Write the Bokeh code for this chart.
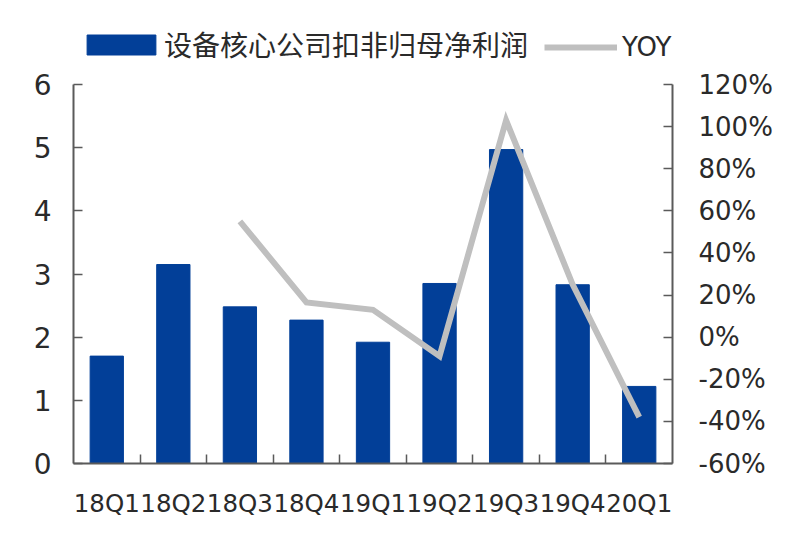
from bokeh.plotting import figure
from bokeh.models import Range1d, LinearAxis, FixedTicker, Legend, LegendItem, ColumnDataSource, PrintfTickFormatter
from bokeh.embed import file_html
from bokeh.resources import INLINE

quarters = ["18Q1", "18Q2", "18Q3", "18Q4", "19Q1", "19Q2", "19Q3", "19Q4", "20Q1"]
profit = [1.70, 3.15, 2.48, 2.27, 1.92, 2.85, 4.97, 2.83, 1.22]
yoy = [None, None, 55, 16.5, 13, -9, 103, 25, -38]
positions = list(range(len(quarters)))
boundaries = [i + 0.5 for i in positions[:-1]]
bar_label = "设备核心公司扣非归母净利润"
line_label = "YOY"

BLUE = "#023F98"
GREY = "#BFBFBF"
AXIS = "#5a5a5a"
TEXT = "#2a2a2a"

# The frame reaches above the top tick so the legend can sit over the axes.
PLOT_H = 379
HEADROOM = 64
extra = HEADROOM / PLOT_H

p = figure(frame_width=599, frame_height=PLOT_H + HEADROOM, output_backend="svg", toolbar_location=None,
           x_range=Range1d(-0.5, 8.5), y_range=Range1d(0, 6 * (1 + extra)),
           min_border_left=73, min_border_right=112, min_border_top=20, min_border_bottom=66)
p.extra_y_ranges = {"yoy": Range1d(-60, 120 + 180 * extra)}
p.background_fill_color = "white"
p.outline_line_color = None
p.grid.visible = False

bars = p.vbar(x=positions, top=profit, width=0.5, color=BLUE)
src = ColumnDataSource(dict(x=positions[2:], y=yoy[2:]))
line = p.line("x", "y", source=src, y_range_name="yoy", line_color=GREY, line_width=6, line_join="miter")

xa = p.xaxis[0]
xa.ticker = FixedTicker(ticks=positions, minor_ticks=boundaries)
xa.major_label_overrides = dict(zip(positions, quarters))
xa.major_tick_line_color = None
xa.minor_tick_in = 9
xa.minor_tick_out = 0
xa.minor_tick_line_color = AXIS
xa.minor_tick_line_width = 1.5
xa.axis_line_color = AXIS
xa.axis_line_width = 2
xa.major_label_text_font = "DejaVu Sans"
xa.major_label_text_font_size = "24.5px"
xa.major_label_text_color = TEXT
xa.major_label_standoff = 19

ya = p.yaxis[0]
ya.ticker = FixedTicker(ticks=[0, 1, 2, 3, 4, 5, 6])
ya.bounds = (0, 6)
yr = LinearAxis(y_range_name="yoy", ticker=FixedTicker(ticks=list(range(-60, 121, 20))),
                formatter=PrintfTickFormatter(format="%d%%"), bounds=(-60, 120))
p.add_layout(yr, "right")
for a in (ya, yr):
    a.major_tick_in = 9
    a.major_tick_out = 0
    a.minor_tick_line_color = None
    a.major_tick_line_color = AXIS
    a.major_tick_line_width = 1.5
    a.axis_line_color = AXIS
    a.axis_line_width = 2
    a.major_label_text_font = "DejaVu Sans"
    a.major_label_text_color = TEXT
ya.major_label_text_font_size = "28px"
yr.major_label_text_font_size = "26px"
ya.major_label_standoff = 22
yr.major_label_standoff = 26

common = dict(orientation="horizontal", border_line_color=None, background_fill_alpha=0,
              label_text_color=TEXT, margin=0, padding=0, label_height=22)
legend1 = Legend(items=[LegendItem(label=bar_label, renderers=[bars])], location=(5, 399),
                 glyph_width=86, glyph_height=25, label_standoff=0,
                 label_text_font="Noto Sans CJK SC", label_text_font_size="28px", **common)
legend2 = Legend(items=[LegendItem(label=line_label, renderers=[line])], location=(471, 401),
                 glyph_width=73, glyph_height=22, label_standoff=5,
                 label_text_font="DejaVu Sans", label_text_font_size="26px", **common)
p.add_layout(legend1)
p.add_layout(legend2)

open("out.html", "w").write(file_html(p, INLINE))
